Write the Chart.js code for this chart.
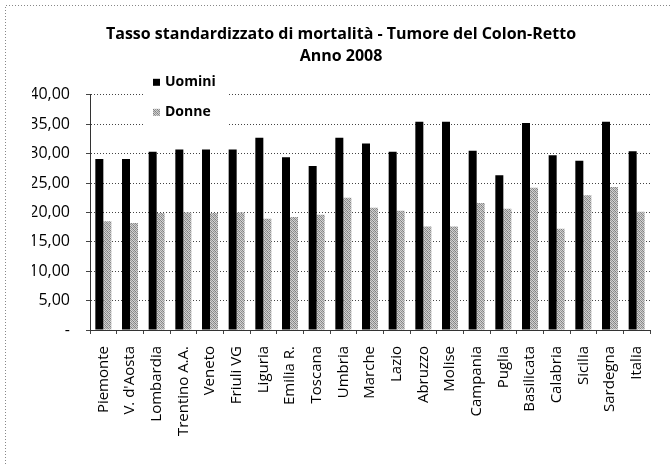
<!DOCTYPE html>
<html>
<head>
<meta charset="utf-8">
<script src="https://cdn.jsdelivr.net/npm/chart.js@4.4.1/dist/chart.umd.min.js"></script>
<style>
    html, body { margin: 0; padding: 0; background: #fff; }
    #wrap { width: 670px; height: 464px; }
</style>
</head>
<body>
<div id="wrap"><canvas id="mortalityChart" width="670" height="464"></canvas></div>
<script>
// Data
const categories = ['Piemonte', "V. d'Aosta", 'Lombardia', 'Trentino A.A.', 'Veneto', 'Friuli VG',
    'Liguria', 'Emilia R.', 'Toscana', 'Umbria', 'Marche', 'Lazio', 'Abruzzo', 'Molise',
    'Campania', 'Puglia', 'Basilicata', 'Calabria', 'Sicilia', 'Sardegna', 'Italia'];
const uomini = [29.1, 29.1, 30.3, 30.7, 30.7, 30.7, 32.7, 29.4, 27.9, 32.7, 31.7,
    30.3, 35.4, 35.4, 30.5, 26.3, 35.2, 29.7, 28.8, 35.4, 30.4];
const donne = [18.5, 18.2, 19.9, 20.0, 19.9, 20.0, 18.9, 19.2, 19.6, 22.5, 20.8,
    20.3, 17.6, 17.6, 21.6, 20.6, 24.2, 17.2, 22.9, 24.3, 20.1];
const seriesNames = ['Uomini', 'Donne'];
const yTickLabels = ['-', '5,00', '10,00', '15,00', '20,00', '25,00', '30,00', '35,00', '40,00'];
const titleLines = ['Tasso standardizzato di mortalità - Tumore del Colon-Retto', 'Anno 2008'];

const FONT = "'Open Sans', Lato, sans-serif";

// dithered grey like the scanned print
const makePattern = (ctx) => {
    const tile = document.createElement('canvas');
    tile.width = 4;
    tile.height = 4;
    const t = tile.getContext('2d');
    const map = [
        '#8a8a8a', '#d4d4d4', '#9c9c9c', '#c8c8c8',
        '#cfcfcf', '#7c7c7c', '#d8d8d8', '#959595',
        '#a0a0a0', '#cccccc', '#858585', '#d2d2d2',
        '#d6d6d6', '#929292', '#c4c4c4', '#808080'
    ];
    map.forEach((c, i) => {
        t.fillStyle = c;
        t.fillRect(i % 4, Math.floor(i / 4), 1, 1);
    });
    return ctx.createPattern(tile, 'repeat');
};

const canvas = document.getElementById('mortalityChart');
const donnePattern = makePattern(canvas.getContext('2d'));

// white page + dotted frame (only top and left show in the scan)
const framePlugin = {
    id: 'frame',
    beforeDraw(chart) {
        const ctx = chart.ctx;
        ctx.save();
        ctx.fillStyle = '#fff';
        ctx.fillRect(0, 0, chart.width, chart.height);
        ctx.strokeStyle = '#888';
        ctx.lineWidth = 1;
        ctx.setLineDash([1, 2]);
        ctx.beginPath();
        ctx.moveTo(5.5, chart.height);
        ctx.lineTo(5.5, 5.5);
        ctx.lineTo(chart.width, 5.5);
        ctx.stroke();
        ctx.restore();
    }
};

// legend box sitting over the top-left of the plot, like the Excel original
const legendPlugin = {
    id: 'insideLegend',
    afterDatasetsDraw(chart) {
        const ctx = chart.ctx;
        const area = chart.chartArea;
        const x0 = area.left + 53;
        const y0 = area.top - 26;
        ctx.save();
        ctx.fillStyle = '#fff';
        ctx.fillRect(x0, y0, 85, 64);
        ctx.font = 'bold 14px ' + FONT;
        ctx.textBaseline = 'middle';
        chart.data.datasets.forEach((ds, i) => {
            const cy = y0 + 13 + i * 30;
            ctx.fillStyle = ds.backgroundColor;
            ctx.fillRect(x0 + 10, cy - 3, 7, 7);
            ctx.fillStyle = '#000';
            ctx.fillText(ds.label, x0 + 22, cy);
        });
        ctx.restore();
    }
};

const chart = new Chart(canvas, {
    type: 'bar',
    data: {
        labels: categories,
        datasets: [
            {
                label: seriesNames[0],
                data: uomini,
                backgroundColor: '#000',
                borderWidth: 0,
                barPercentage: 1.0,
                categoryPercentage: 0.6
            },
            {
                label: seriesNames[1],
                data: donne,
                backgroundColor: donnePattern,
                borderWidth: 0,
                barPercentage: 1.0,
                categoryPercentage: 0.6
            }
        ]
    },
    options: {
        responsive: false,
        animation: false,
        layout: {
            padding: { left: 32, right: 20, top: 10, bottom: 14 }
        },
        plugins: {
            legend: { display: false },
            tooltip: { enabled: false },
            title: {
                display: true,
                text: titleLines,
                color: '#000',
                font: { family: FONT, size: 16, weight: 'bold', lineHeight: 1.4 },
                padding: { top: 13, bottom: 27 }
            }
        },
        scales: {
            x: {
                afterFit: (scale) => { scale.height = 120; },
                grid: {
                    display: true,
                    drawOnChartArea: false,
                    drawTicks: true,
                    tickLength: 4,
                    color: '#444',
                    offset: true
                },
                border: { display: true, color: '#333', width: 1, dash: [1, 2] },
                ticks: {
                    autoSkip: false,
                    maxRotation: 90,
                    minRotation: 90,
                    padding: 12,
                    color: '#000',
                    font: { family: FONT, size: 15 }
                }
            },
            y: {
                min: 0,
                max: 40,
                afterFit: (scale) => { scale.width = 58; },
                grid: {
                    color: '#444',
                    lineWidth: 1,
                    tickLength: 4,
                    borderDash: [1, 2]
                },
                border: { display: true, color: '#333', width: 1, dash: [1, 2] },
                ticks: {
                    stepSize: 5,
                    padding: 16,
                    color: '#000',
                    font: { family: FONT, size: 16 },
                    callback: function(value) {
                        return yTickLabels[Math.round(value / 5)];
                    }
                }
            }
        }
    },
    plugins: [framePlugin, legendPlugin]
});
</script>
</body>
</html>
